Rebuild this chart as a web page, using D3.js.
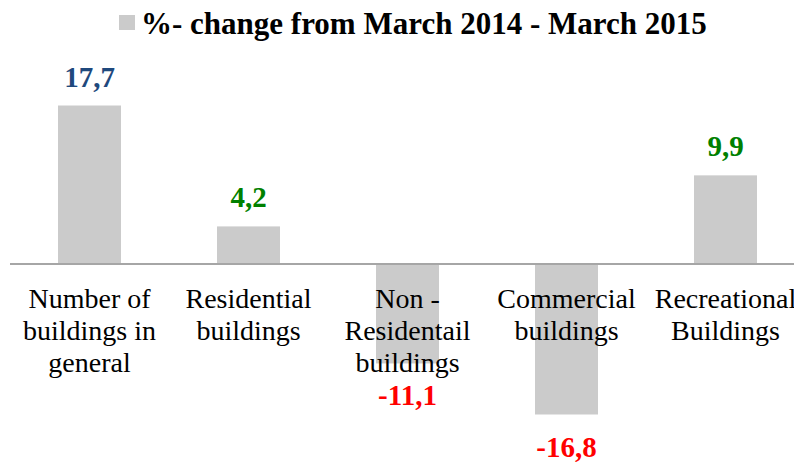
<!DOCTYPE html>
<html><head><meta charset="utf-8">
<script src="https://cdn.jsdelivr.net/npm/d3@7"></script>
<style>body{margin:0;background:#fff}svg{display:block}</style>
</head><body>
<script>
const categories = [
  ["Number of", "buildings in", "general"],
  ["Residential", "buildings"],
  ["Non -", "Residentail", "buildings"],
  ["Commercial", "buildings"],
  ["Recreational", "Buildings"]
];
const values = [17.7, 4.2, -11.1, -16.8, 9.9];
const valueLabels = ["17,7", "4,2", "-11,1", "-16,8", "9,9"];
const labelColors = ["#1f497d", "#008000", "#ff0000", "#ff0000", "#008000"];
const seriesName = "%- change from March 2014 - March 2015";

const W = 794, H = 462;
const font = "'Liberation Serif', 'DejaVu Serif', serif";
const svg = d3.select("body").append("svg").attr("width", W).attr("height", H);

const x = d3.scaleBand().domain(d3.range(values.length)).range([10, 805])
  .paddingInner(0.604).paddingOuter(0.302);
const y = d3.scaleLinear().domain([-16.8, 17.7]).range([414.5, 105.5]);

svg.append("g").selectAll("rect").data(values).join("rect")
  .attr("x", (d, i) => x(i))
  .attr("width", x.bandwidth())
  .attr("y", d => y(Math.max(0, d)))
  .attr("height", d => Math.abs(y(d) - y(0)))
  .attr("fill", "#cbcbcb");

const axis = d3.axisBottom(x).tickSize(0).tickFormat("");
const ax = svg.append("g").attr("transform", `translate(0,${y(0)})`).call(axis);
ax.select(".domain").attr("stroke", "#a6a6a6").attr("stroke-width", 2)
  .attr("d", `M10,0H${W}`);

const cl = svg.append("g").selectAll("text").data(categories).join("text")
  .attr("text-anchor", "middle")
  .attr("font-family", font).attr("font-size", 28).attr("fill", "#000");
cl.each(function(lines, i) {
  d3.select(this).selectAll("tspan").data(lines).join("tspan")
    .attr("x", x(i) + x.bandwidth() / 2)
    .attr("y", (d, j) => 308 + j * 32)
    .text(d => d);
});

svg.append("g").selectAll("text").data(values).join("text")
  .attr("x", (d, i) => x(i) + x.bandwidth() / 2)
  .attr("y", d => d >= 0 ? y(d) - 19 : y(d) + 42)
  .attr("text-anchor", "middle")
  .attr("font-family", font).attr("font-weight", "bold").attr("font-size", 29)
  .attr("fill", (d, i) => labelColors[i])
  .text((d, i) => valueLabels[i]);

const lg = svg.append("g");
lg.append("rect").attr("x", 119).attr("y", 15).attr("width", 16).attr("height", 15).attr("fill", "#cbcbcb");
lg.append("text").attr("x", 141).attr("y", 34)
  .attr("font-family", font).attr("font-weight", "bold").attr("font-size", 31)
  .attr("fill", "#000").text(seriesName);
</script>
</body></html>
